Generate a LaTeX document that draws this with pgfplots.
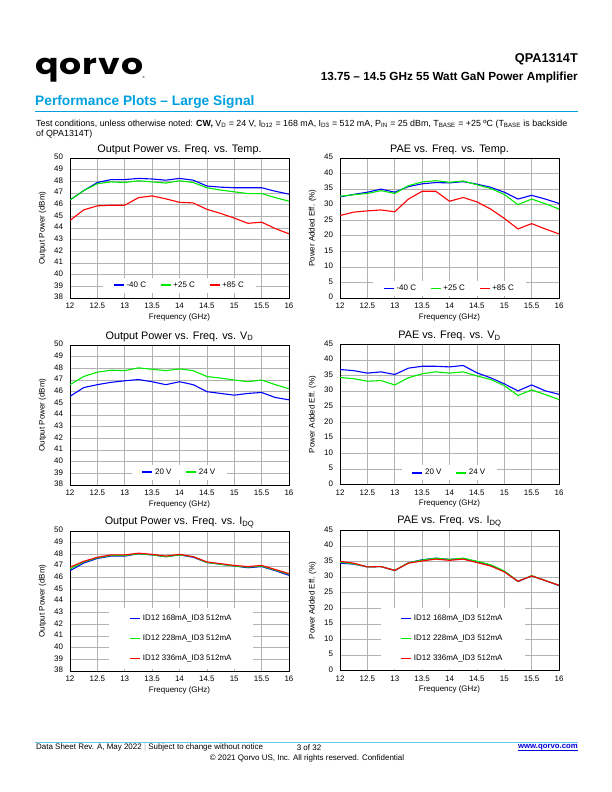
\documentclass[border=0pt]{standalone}
\usepackage{fontspec}
\setmainfont{Liberation Sans}
\setsansfont{Liberation Sans}
\newfontfamily\logofont{Poppins}[LetterSpace=3]
\usepackage{pgfplots}
\usepackage{pgfplotstable}
\pgfplotsset{compat=1.18}
\definecolor{qblue}{RGB}{0,160,225}
\definecolor{lblue}{RGB}{0,0,255}
\definecolor{lgreen}{RGB}{0,235,0}
\definecolor{lred}{RGB}{255,0,0}
\definecolor{linkblue}{RGB}{0,0,220}

\pgfplotstableread{
f    a     b     c
12    46.4  46.4  44.65
12.25 47.2  47.2  45.55
12.5  47.9  47.8  45.9
12.75 48.15 47.95 45.95
13    48.15 47.9  45.95
13.25 48.25 48.05 46.6
13.5  48.2  47.95 46.75
13.75 48.1  47.85 46.5
14    48.25 48.05 46.2
14.25 48.1  47.9  46.15
14.5  47.6  47.45 45.6
14.75 47.5  47.25 45.25
15    47.45 47.1  44.85
15.25 47.45 46.95 44.4
15.5  47.45 46.95 44.5
15.75 47.15 46.6  43.95
16    46.9  46.3  43.5
}\tabA

\pgfplotstableread{
f    a     b     c
12    32.5  32.7  26.5
12.25 33.3  33.2  27.6
12.5  34.0  33.6  28.0
12.75 35.0  34.5  28.3
13    34.0  33.6  27.7
13.25 35.8  36.1  31.8
13.5  36.7  37.3  34.3
13.75 37.1  37.7  34.3
14    37.0  37.2  31.1
14.25 37.4  37.6  32.3
14.5  36.6  36.4  30.9
14.75 35.6  35.2  28.6
15    34.0  33.3  25.6
15.25 31.8  30.0  22.2
15.5  33.0  31.8  23.9
15.75 31.8  30.3  22.2
16    30.4  28.6  20.6
}\tabB

\pgfplotstableread{
f    a     b
12    45.6  46.6
12.25 46.35 47.3
12.5  46.6  47.67
12.75 46.8  47.84
13    46.93 47.8
13.25 47.04 48.04
13.5  46.85 47.92
13.75 46.6  47.8
14    46.85 47.95
14.25 46.6  47.8
14.5  46.0  47.3
14.75 45.85 47.16
15    45.7  47.0
15.25 45.85 46.85
15.5  45.93 47.0
15.75 45.5  46.6
16    45.3  46.25
}\tabC

\pgfplotstableread{
f    a     b
12    36.96 34.4
12.25 36.6  34.0
12.5  35.8  33.2
12.75 36.2  33.4
13    35.35 32.0
13.25 37.4  34.3
13.5  38.0  35.6
13.75 38.0  36.2
14    37.8  35.8
14.25 38.25 36.2
14.5  35.9  34.9
14.75 34.3  33.75
15    32.35 31.8
15.25 30.1  28.6
15.5  32.0  30.4
15.75 30.1  28.9
16    29.0  27.3
}\tabD

\pgfplotstableread{
f    a     b     c
12    46.6  46.75 46.9
12.25 47.25 47.35 47.4
12.5  47.65 47.7  47.75
12.75 47.85 47.9  47.95
13    47.85 47.9  47.95
13.25 48.05 48.05 48.1
13.5  47.95 47.95 48.0
13.75 47.8  47.8  47.85
14    47.95 47.95 48.0
14.25 47.75 47.8  47.8
14.5  47.3  47.3  47.35
14.75 47.15 47.15 47.2
15    47.0  47.0  47.05
15.25 46.85 46.9  46.95
15.5  46.95 47.0  47.05
15.75 46.6  46.65 46.7
16    46.2  46.3  46.35
}\tabE

\pgfplotstableread{
f    a     b     c
12    34.5  34.8  35.1
12.25 34.2  34.3  34.5
12.5  33.3  33.3  33.3
12.75 33.4  33.4  33.4
13    32.1  32.2  32.2
13.25 34.6  34.6  34.5
13.5  35.6  35.5  35.2
13.75 36.1  36.1  35.8
14    35.7  35.7  35.4
14.25 36.0  36.1  35.8
14.5  35.0  35.1  34.7
14.75 33.9  34.0  33.6
15    31.9  32.0  31.7
15.25 28.6  28.7  28.7
15.5  30.4  30.5  30.4
15.75 28.9  28.9  28.9
16    27.3  27.4  27.4
}\tabF

\pgfplotsset{
  qax/.style={
    scale only axis, width=219bp, height=140bp,
    xmin=12, xmax=16,
    xtick={12,12.5,13,13.5,14,14.5,15,15.5,16},
    xticklabels={12,12.5,13,13.5,14,14.5,15,15.5,16},
    typeset ticklabels with strut,
    grid=major, major grid style={draw=gray!60, line width=0.6bp},
    major tick length=0pt,
    axis line style={draw=black, line width=0.6bp},
    tick label style={font=\fontsize{8}{9}\selectfont},
    /pgf/number format/assume math mode=true,
    yticklabel style={xshift=-3.5bp},
    xticklabel style={yshift=-1bp},
    title style={font=\fontsize{10.9}{12}\selectfont, at={(0.5,1)}, anchor=south, yshift=-6pt},
    xlabel={Frequency (GHz)},
    label style={font=\fontsize{8}{9}\selectfont},
    xlabel shift=-5bp,
    ylabel shift=1bp,
    no markers,
    every axis plot/.append style={line width=1.1bp},
    legend image code/.code={\draw[line width=1.4bp] (0bp,0bp) -- (10bp,0bp);},
    legend style={draw=none, fill=white, font=\fontsize{8}{9}\selectfont, inner xsep=10bp, inner ysep=2bp},
  },
  pout/.style={ymin=38, ymax=50, ytick={38,39,...,50}, ylabel={Output Power (dBm)}},
  pae/.style={ymin=0, ymax=45, ytick={0,5,...,45}, ylabel={Power Added Eff. (\%)}},
  hleg/.style={legend columns=-1, legend style={/tikz/every even column/.append style={column sep=12bp}}},
  vleg/.style={legend columns=1, legend style={row sep=9bp, inner xsep=20bp, inner ysep=5bp}},
}

\begin{document}
\begin{tikzpicture}
\fill[white] (0,0) rectangle (612bp,792bp);
\path[use as bounding box] (0,0) rectangle (612bp,792bp);

% ---------- header ----------
\node[anchor=west, inner sep=0pt] at (35bp,722bp) {\scalebox{1.2}[1]{\logofont\bfseries\fontsize{29}{29}\selectfont qorvo}};
\node[anchor=west, inner sep=0pt] at (142.5bp,715bp) {\fontsize{3}{3}\selectfont ®};
\node[anchor=east, inner sep=0pt] at (578bp,733bp) {\bfseries\fontsize{12.8}{14}\selectfont QPA1314T};
\node[anchor=east, inner sep=0pt] at (578bp,714.5bp) {\bfseries\fontsize{11.8}{13}\selectfont 13.75 – 14.5 GHz 55 Watt GaN Power Amplifier};
\node[anchor=west, inner sep=0pt] at (35bp,690bp) {\color{qblue}\bfseries\fontsize{13.8}{15}\selectfont Performance Plots – Large Signal};
\draw[qblue, line width=1bp] (35bp,680bp) -- (578bp,680bp);
\node[anchor=west, inner sep=0pt] at (36bp,668bp) {\fontsize{8.9}{10}\selectfont Test conditions, unless otherwise noted: \textbf{CW,} V\textsubscript{D} = 24 V, I\textsubscript{D12} = 168 mA, I\textsubscript{D3} = 512 mA, P\textsubscript{IN} = 25 dBm, T\textsubscript{BASE} = +25 ºC (T\textsubscript{BASE} is backside};
\node[anchor=west, inner sep=0pt] at (36bp,657.5bp) {\fontsize{8.9}{10}\selectfont of QPA1314T)};

% ---------- footer ----------
\draw[qblue!60, line width=0.6bp] (35bp,50bp) -- (578bp,50bp);
\node[anchor=west, inner sep=0pt] at (36bp,44.5bp) {\fontsize{8}{9}\selectfont Data Sheet Rev. A, May 2022 {\color{gray!60}|} Subject to change without notice};
\node[anchor=center, inner sep=0pt] at (309bp,44.5bp) {\fontsize{8}{9}\selectfont 3 of 32};
\node[anchor=east, inner sep=0pt] at (578bp,44.5bp) (www) {\color{linkblue}\bfseries\fontsize{7.8}{9}\selectfont www.qorvo.com};
\draw[linkblue, line width=0.5bp] ([yshift=-1.5bp]www.base west) -- ([yshift=-1.5bp]www.base east);
\node[anchor=center, inner sep=0pt] at (307bp,34bp) {\fontsize{8}{9}\selectfont © 2021 Qorvo US, Inc. All rights reserved. Confidential};

% ---------- plot 1 ----------
\begin{axis}[qax, pout, hleg, at={(70bp,494bp)}, anchor=south west,
  title={Output Power vs. Freq. vs. Temp.},
  legend style={at={(0.5,0.092)}, anchor=center}]
\addplot[lblue] table[x=f,y=a] {\tabA};
\addplot[lgreen] table[x=f,y=b] {\tabA};
\addplot[lred] table[x=f,y=c] {\tabA};
\legend{-40 C, +25 C, +85 C}
\end{axis}

% ---------- plot 2 ----------
\begin{axis}[qax, pae, hleg, at={(340bp,494bp)}, anchor=south west,
  title={PAE vs. Freq. vs. Temp.},
  legend style={at={(0.5,0.066)}, anchor=center}]
\addplot[lblue] table[x=f,y=a] {\tabB};
\addplot[lgreen] table[x=f,y=b] {\tabB};
\addplot[lred] table[x=f,y=c] {\tabB};
\legend{-40 C, +25 C, +85 C}
\end{axis}

% ---------- plot 3 ----------
\begin{axis}[qax, pout, hleg, at={(70bp,307bp)}, anchor=south west,
  title={Output Power vs. Freq. vs. V\textsubscript{D}},
  legend style={at={(0.5,0.092)}, anchor=center}]
\addplot[lblue] table[x=f,y=a] {\tabC};
\addplot[lgreen] table[x=f,y=b] {\tabC};
\legend{20 V, 24 V}
\end{axis}

% ---------- plot 4 ----------
\begin{axis}[qax, pae, hleg, at={(340bp,307.5bp)}, anchor=south west,
  title={PAE vs. Freq. vs. V\textsubscript{D}},
  legend style={at={(0.5,0.083)}, anchor=center}]
\addplot[lblue] table[x=f,y=a] {\tabD};
\addplot[lgreen] table[x=f,y=b] {\tabD};
\legend{20 V, 24 V}
\end{axis}

% ---------- plot 5 ----------
\begin{axis}[qax, pout, vleg, at={(70bp,121bp)}, anchor=south west,
  title={Output Power vs. Freq. vs. I\textsubscript{DQ}},
  legend style={at={(0.509,0.232)}, anchor=center}]
\addplot[lblue] table[x=f,y=a] {\tabE};
\addplot[lgreen] table[x=f,y=b] {\tabE};
\addplot[lred] table[x=f,y=c] {\tabE};
\legend{ID12 168mA\_ID3 512mA, ID12 228mA\_ID3 512mA, ID12 336mA\_ID3 512mA}
\end{axis}

% ---------- plot 6 ----------
\begin{axis}[qax, pae, vleg, at={(340bp,121.5bp)}, anchor=south west,
  title={PAE vs. Freq. vs. I\textsubscript{DQ}},
  legend style={at={(0.514,0.228)}, anchor=center}]
\addplot[lblue] table[x=f,y=a] {\tabF};
\addplot[lgreen] table[x=f,y=b] {\tabF};
\addplot[lred] table[x=f,y=c] {\tabF};
\legend{ID12 168mA\_ID3 512mA, ID12 228mA\_ID3 512mA, ID12 336mA\_ID3 512mA}
\end{axis}
\end{tikzpicture}
\end{document}
